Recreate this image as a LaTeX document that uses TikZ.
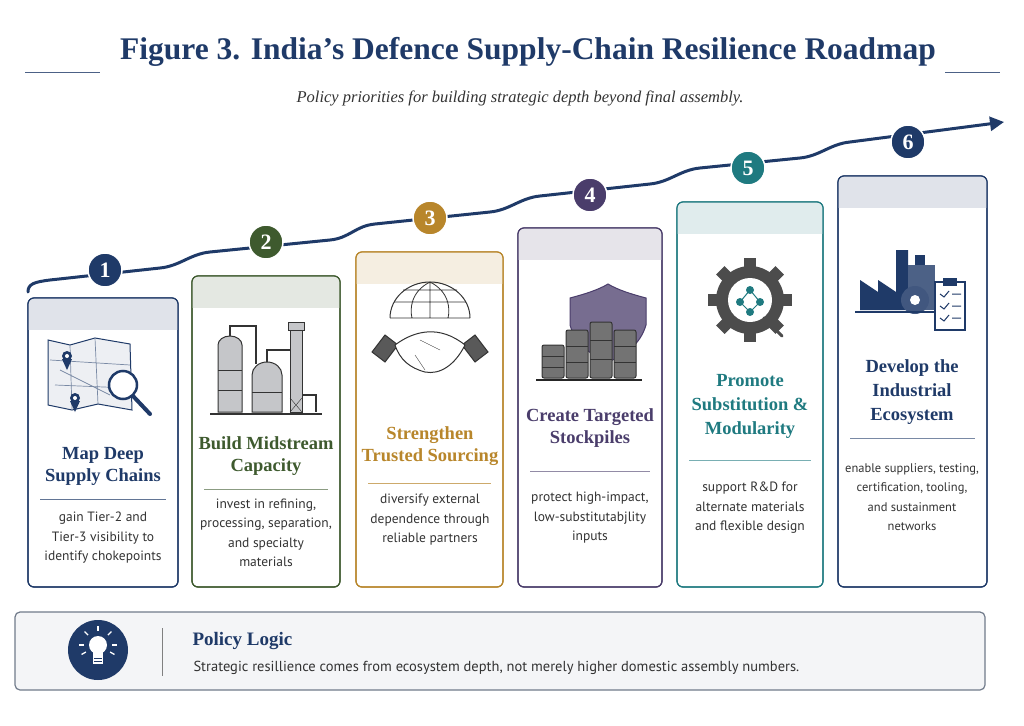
\documentclass[tikz,border=0pt]{standalone}
\usepackage{fontspec}
\setmainfont{Liberation Serif}
\setsansfont{PT Sans}
\usetikzlibrary{arrows.meta,calc}
\definecolor{navy}{HTML}{1F3A68}
\definecolor{cgreen}{HTML}{3E5A2E}
\definecolor{cgold}{HTML}{B8862B}
\definecolor{cpurp}{HTML}{4A3D6B}
\definecolor{cteal}{HTML}{1F7A80}
\definecolor{txt}{HTML}{333333}
\definecolor{icong}{HTML}{8A8E94}
\tikzset{
 card/.style={draw=#1,line width=1.2pt,rounded corners=6pt,fill=white},
 numc/.style={circle,fill=#1,draw=white,line width=1.5pt,minimum size=34pt,inner sep=0pt,text=white,font=\bfseries\fontsize{22}{22}\selectfont},
 ctitle/.style={text=#1,font=\bfseries\fontsize{18.5}{22}\selectfont,align=center},
 cbody/.style={text=txt,font=\sffamily\fontsize{13.5}{19.5}\selectfont,align=center},
 ic/.style={draw=black!80,line width=1pt,fill=icong!50},
}
\begin{document}
\begin{tikzpicture}[x=1pt,y=-1pt]
\useasboundingbox (0,0) rectangle (1024,725);
\fill[white] (0,0) rectangle (1024,725);
% title
\node[font=\bfseries\fontsize{31.5}{32}\selectfont,text=navy] (title) at (528,52) {Figure 3. India’s Defence Supply-Chain Resilience Roadmap};
\draw[navy!80,line width=0.8pt] (25,72) -- (100,72) (945,72) -- (1000,72);
\node[font=\itshape\fontsize{16.5}{18}\selectfont,text=txt] (sub) at (520,98) {Policy priorities for building strategic depth beyond final assembly.};
% timeline
\draw[navy,line width=3pt,line cap=round,-{Triangle[length=14pt,width=14pt]}]
 (28,292) .. controls (28,284) and (34,282) .. (50,280) -- (160,268) .. controls (180,266) and (190,254) .. (210,252) -- (330,240) .. controls (350,238) and (355,226) .. (375,224) -- (490,212) .. controls (510,210) and (520,198) .. (540,196) -- (650,184) .. controls (670,182) and (680,170) .. (700,168) -- (800,158) .. controls (820,156) and (830,144) .. (850,142) -- (1004,122);
% cards
\def\card#1#2#3#4#5{%
 \draw[card=#5] (#1,#3) rectangle (#2,587);
 \begin{scope}
 \clip[rounded corners=6pt] (#1,#3) rectangle (#2,587);
 \fill[#5!14] (#1,#3) rectangle (#2,#3+32);
 \end{scope}
 \draw[card=#5,fill=none] (#1,#3) rectangle (#2,587);
}
\card{28}{178}{298}{1}{navy}
\card{192}{340}{276}{2}{cgreen}
\card{356}{503}{252}{3}{cgold}
\card{518}{662}{228}{4}{cpurp}
\card{677}{823}{202}{5}{cteal}
\card{838}{987}{176}{6}{navy}
\node[numc=navy] (n1) at (105,270) {1};
\node[numc=cgreen] (n2) at (266,242) {2};
\node[numc=cgold] (n3) at (430,218) {3};
\node[numc=cpurp] (n4) at (590,195) {4};
\node[numc=cteal] (n5) at (748,168) {5};
\node[numc=navy] (n6) at (908,142) {6};
% card texts
\node[ctitle=navy] (t1) at (103,466) {Map Deep\\Supply Chains};
\draw[navy!70] (40,499) -- (166,499);
\node[cbody] (b1) at (103,538) {gain Tier-2 and\\Tier-3 visibility to\\identify chokepoints};
\node[ctitle=cgreen] (t2) at (266,456) {Build Midstream\\Capacity};
\draw[cgreen!60] (204,489) -- (328,489);
\node[cbody] (b2) at (266,533) {invest in refining,\\processing, separation,\\and specialty\\materials};
\node[ctitle=cgold] (t3) at (430,446) {Strengthen\\Trusted Sourcing};
\draw[cgold!70] (368,483) -- (491,483);
\node[cbody] (b3) at (430,520) {diversify external\\dependence through\\reliable partners};
\node[ctitle=cpurp] (t4) at (590,428) {Create Targeted\\Stockpiles};
\draw[cpurp!60] (530,471) -- (650,471);
\node[cbody] (b4) at (590,518) {protect high-impact,\\low-substitutabjlity\\inputs};
\node[ctitle=cteal,font=\bfseries\fontsize{18.5}{24}\selectfont] (t5) at (750,406) {Promote\\Substitution \&\\Modularity};
\draw[cteal!60] (689,460) -- (811,460);
\node[cbody] (b5) at (750,508) {support R\&D for\\alternate materials\\and flexible design};
\node[ctitle=navy,font=\bfseries\fontsize{18.5}{24}\selectfont] (t6) at (912,392) {Develop the\\Industrial\\Ecosystem};
\draw[navy!60] (850,438) -- (975,438);
\node[cbody,font=\sffamily\fontsize{12.5}{19.5}\selectfont] (b6) at (912,497) {enable suppliers, testing,\\certification, tooling,\\and sustainment\\networks};
% icon 1: map + magnifier
\draw[navy,line width=1pt,fill=navy!8] (48,340) -- (70,345) -- (95,338) -- (130,344) -- (132,410) -- (98,404) -- (72,410) -- (48,405) -- cycle;
\draw[navy!60,line width=0.7pt] (50,360)--(130,365) (55,385)--(128,388) (70,345)--(72,410) (95,338)--(98,404) (60,370)--(110,395);
\draw[navy,line width=2.5pt,fill=white] (123,385) circle (14);
\draw[navy,line width=4pt,line cap=round] (133,396) -- (150,414);
\fill[navy] (67,356) circle (5) (75,398) circle (5);
\fill[navy] (62,359) -- (67,370) -- (72,359) -- cycle (70,401) -- (75,412) -- (80,401) -- cycle;
\fill[white] (67,356) circle (2) (75,398) circle (2);
% icon 2: refinery
\draw[ic] (218,412) -- (218,345) arc (180:360:12 and 9) -- (242,412) -- cycle;
\draw[ic] (252,412) -- (252,375) arc (180:360:15 and 13) -- (282,412) -- cycle;
\draw[ic] (290,330) rectangle (302,412);
\draw[ic] (288,330) rectangle (304,322);
\draw[black!80,line width=1.2pt] (230,336) -- (230,326) -- (256,326) -- (256,364) (267,362) -- (267,350) -- (290,350) (302,395) -- (316,395) -- (316,412);
\draw[black!80] (218,370) -- (242,370) (218,390) -- (242,390) (252,392) -- (282,392);
\draw[black!80,line width=1.3pt] (210,414) -- (322,414);
\draw[black!80] (290,398) -- (302,412) (302,398) -- (290,412);
% icon 3: globe + handshake
\draw[black!80,line width=1pt] (390,318) arc (180:360:40 and 36);
\draw[black!80,line width=0.8pt] (430,282) -- (430,318) (430,282) .. controls (410,292) and (410,310) .. (412,318) (430,282) .. controls (450,292) and (450,310) .. (448,318) (394,302) -- (466,302) (403,290) -- (457,290) (390,318) -- (470,318);
\draw[ic,fill=black!65] (372,352) -- (385,335) -- (398,345) -- (385,362) -- cycle;
\draw[ic,fill=black!65] (488,352) -- (475,335) -- (462,345) -- (475,362) -- cycle;
\draw[ic,fill=white] (395,345) .. controls (415,330) and (440,325) .. (465,345) .. controls (455,365) and (440,375) .. (425,372) .. controls (410,368) and (400,360) .. (395,345) -- cycle;
\draw[black!80] (420,340) -- (440,350) (415,355) -- (425,370);
% icon 4: shield + barrels
\draw[cpurp,line width=1pt,fill=cpurp!75] (570,298) .. controls (585,294) and (598,290) .. (608,284) .. controls (618,290) and (631,294) .. (646,298) -- (646,325) .. controls (640,345) and (625,355) .. (608,362) .. controls (591,355) and (576,345) .. (570,325) -- cycle;
\foreach \x/\y/\h in {542/345/33,566/330/48,590/322/56,614/330/48}{\draw[ic,fill=black!55,rounded corners=2pt] (\x,\y) rectangle (\x+22,\y+\h);
 \draw[black!80] (\x,\y+\h/3) -- (\x+22,\y+\h/3) (\x,\y+2*\h/3) -- (\x+22,\y+2*\h/3);}
\draw[black!85,line width=1.3pt] (536,380) -- (642,380);
% icon 5: gear
\fill[black!70] (750,300) circle (34);
\foreach \a in {0,45,...,315}{\fill[black!70,rotate around={\a:(750,300)}] (744,258) rectangle (756,270);}
\fill[white] (750,300) circle (22);
\draw[cteal,line width=1pt] (750,290) -- (740,302) -- (750,312) -- (760,302) -- cycle;
\fill[cteal] (750,290) circle (4) (740,302) circle (4) (750,312) circle (4) (760,302) circle (4);
\draw[black!70,line width=3pt,line cap=round] (764,318) -- (782,336);
% icon 6: factory + gear + clipboard
\fill[navy] (860,310) -- (860,280) -- (878,292) -- (878,280) -- (896,292) -- (896,250) -- (908,250) -- (908,310) -- cycle;
\fill[navy!80] (908,265) rectangle (935,310);
\fill[navy] (915,255) rectangle (925,265);
\fill[navy!85] (915,300) circle (14);
\fill[white] (915,300) circle (5);
\draw[navy,line width=1.2pt,fill=white] (935,282) rectangle (965,330);
\fill[navy] (943,278) rectangle (957,286);
\foreach \yy in {294,306,318}{\draw[navy,line width=1pt] (940,\yy) -- (944,\yy+3) -- (949,\yy-3) (952,\yy) -- (961,\yy);}
\draw[navy,line width=1.3pt] (855,312) -- (935,312);
% bottom panel
\draw[navy!60!black!60,line width=1.2pt,fill=navy!5,rounded corners=5pt] (15,612) rectangle (985,690);
\node[circle,fill=navy,minimum size=60pt] (bulb) at (98,650) {};
\fill[white] (98,645) circle (9);
\fill[white] (93,652) rectangle (103,664);
\draw[navy,line width=0.8pt] (94,658) -- (102,658) (94,661) -- (102,661);
\foreach \a in {90,135,45,180,0,210,330}{\draw[white,line width=1.3pt] ($(98,645)+(\a:-14)$) -- ($(98,645)+(\a:-19)$);}
\draw[black!50,line width=0.8pt] (162,628) -- (162,676);
\node[anchor=west,font=\bfseries\fontsize{19}{20}\selectfont,text=navy] (pl) at (189,641) {Policy Logic};
\node[anchor=west,font=\sffamily\fontsize{14.5}{16}\selectfont,text=txt] (pt) at (190,668) {Strategic resillience comes from ecosystem depth, not merely higher domestic assembly numbers.};
\end{tikzpicture}
\end{document}
